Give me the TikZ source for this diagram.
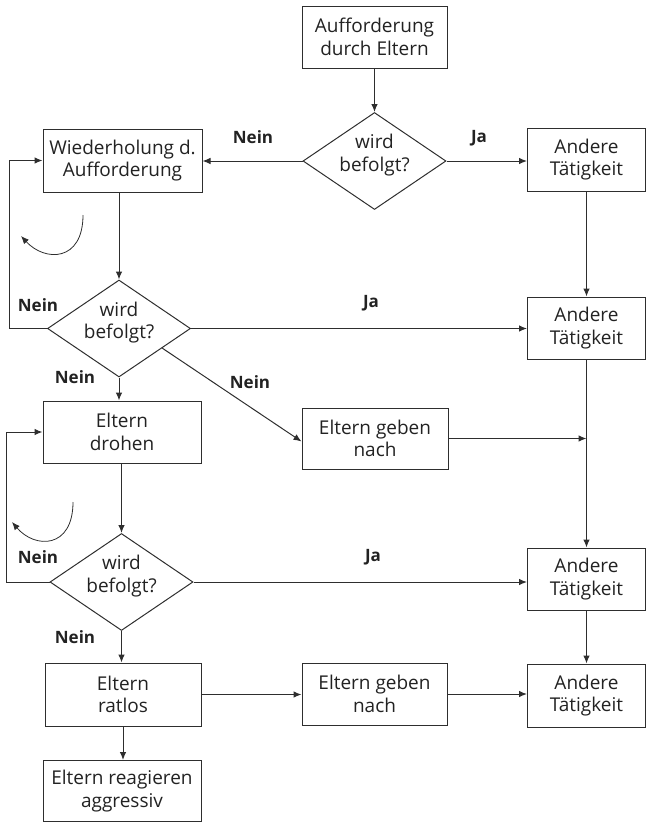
\documentclass[tikz,border=0pt]{standalone}
\usepackage{fontspec}
\setmainfont{Open Sans}
\usetikzlibrary{shapes.geometric,arrows.meta,calc}
\definecolor{ink}{HTML}{222222}
\definecolor{lin}{HTML}{2e2e2e}
\tikzset{
  box/.style={draw=lin,line width=1pt,rectangle,inner sep=0pt,align=center,text=ink,font=\fontsize{19}{22.7}\selectfont},
  dia/.style={draw=lin,line width=1pt,diamond,inner sep=0pt,aspect=1.49,minimum width=143pt,minimum height=97pt},
  diatxt/.style={inner sep=0pt,align=center,text=ink,font=\fontsize{19}{22.7}\selectfont},
  lbl/.style={inner sep=0pt,text=ink,font=\fontsize{17}{20}\selectfont\bfseries},
  arr/.style={draw=lin,line width=1pt,-{Latex[length=8pt,width=6.5pt]}},
}
\begin{document}
\begin{tikzpicture}[x=1pt,y=-1pt]
\useasboundingbox (0,0) rectangle (648,823);
% boxes
\node[box,minimum width=145pt,minimum height=62pt] (b1) at (374.5,37) {Aufforderung\\durch Eltern};
\node[dia] (d1) at (374.5,161) {};
\node[diatxt] (d1t) at (374.5,155) {wird\\befolgt?};
\node[box,minimum width=159pt,minimum height=63pt] (wdh) at (122.5,160.5) {Wiederholung d.\\Aufforderung};
\node[box,minimum width=118pt,minimum height=63pt] (a1) at (586.5,159.5) {Andere\\Tätigkeit};
\node[dia] (d2) at (119,328.5) {};
\node[diatxt] (d2t) at (119,322.5) {wird\\befolgt?};
\node[box,minimum width=118pt,minimum height=62pt] (a2) at (586.5,328) {Andere\\Tätigkeit};
\node[box,minimum width=146pt,minimum height=61pt] (g1) at (375,438.5) {Eltern geben\\nach};
\node[box,minimum width=158pt,minimum height=62pt] (dro) at (122,432) {Eltern\\drohen};
\node[dia] (d3) at (121.5,582) {};
\node[diatxt] (d3t) at (121.5,576) {wird\\befolgt?};
\node[box,minimum width=118pt,minimum height=62pt] (a3) at (586.5,579) {Andere\\Tätigkeit};
\node[box,minimum width=156pt,minimum height=63pt] (rat) at (123,694.5) {Eltern\\ratlos};
\node[box,minimum width=145pt,minimum height=62pt] (g2) at (374.5,694) {Eltern geben\\nach};
\node[box,minimum width=118pt,minimum height=63pt] (a4) at (586.5,695.5) {Andere\\Tätigkeit};
\node[box,minimum width=158pt,minimum height=61pt] (agg) at (122,791) {Eltern reagieren\\aggressiv};
% labels
\node[lbl] (n1) at (253,137) {Nein};
\node[lbl] (j1) at (479,138) {Ja};
\node[lbl] (n2) at (38,305) {Nein};
\node[lbl] (j2) at (371,303) {Ja};
\node[lbl] (n3) at (75,377) {Nein};
\node[lbl] (n4) at (250,382) {Nein};
\node[lbl] (n5) at (38,557) {Nein};
\node[lbl] (j3) at (373,557) {Ja};
\node[lbl] (n6) at (75,637) {Nein};
% connectors
\draw[arr] (b1.south) -- (d1.north);
\draw[arr] (d1.west) -- (d1.west -| wdh.east);
\draw[arr] (d1.east) -- (d1.east -| a1.west);
\draw[arr] (d2.north |- wdh.south) -- (d2.north);
\coordinate (l1) at (9,0);
\draw[arr] (d2.west) -- (d2.west -| l1) |- (wdh.west);
\draw[arr] (d2.east) -- (d2.east -| a2.west);
\draw[arr] (a1.south) -- (a2.north);
\coordinate (dg) at ($(d2.east)!0.4!(d2.south)$);
\coordinate (g1in) at ([yshift=-3pt]g1.west);
\draw[arr] (dg) -- (g1in);
\draw[arr] (d2.south) -- (d2.south |- dro.north);
\draw[arr] (g1.east) -- (g1.east -| a2.south);
\draw[arr] (a2.south) -- (a3.north);
\draw[arr] (d3.north |- dro.south) -- (d3.north);
\coordinate (l2) at (6,0);
\draw[arr] (d3.west) -- (d3.west -| l2) |- (dro.west);
\draw[arr] (d3.east) -- (d3.east -| a3.west);
\draw[arr] (a3.south) -- (a4.north);
\draw[arr] (d3.south) -- (d3.south |- rat.north);
\draw[arr] (rat.east) -- (rat.east -| g2.west);
\draw[arr] (g2.east) -- (g2.east -| a4.west);
\draw[arr] (rat.south) -- (rat.south |- agg.north);
% curved hint arrows
\coordinate (c1s) at (83,215);
\coordinate (c1e) at (21,236);
\draw[arr,line width=0.8pt] (c1s) .. controls (83,262) and (45,262) .. (c1e);
\coordinate (c2s) at (73,502);
\coordinate (c2e) at (12,522);
\draw[arr,line width=0.8pt] (c2s) .. controls (73,549) and (35,549) .. (c2e);
\end{tikzpicture}
\end{document}
